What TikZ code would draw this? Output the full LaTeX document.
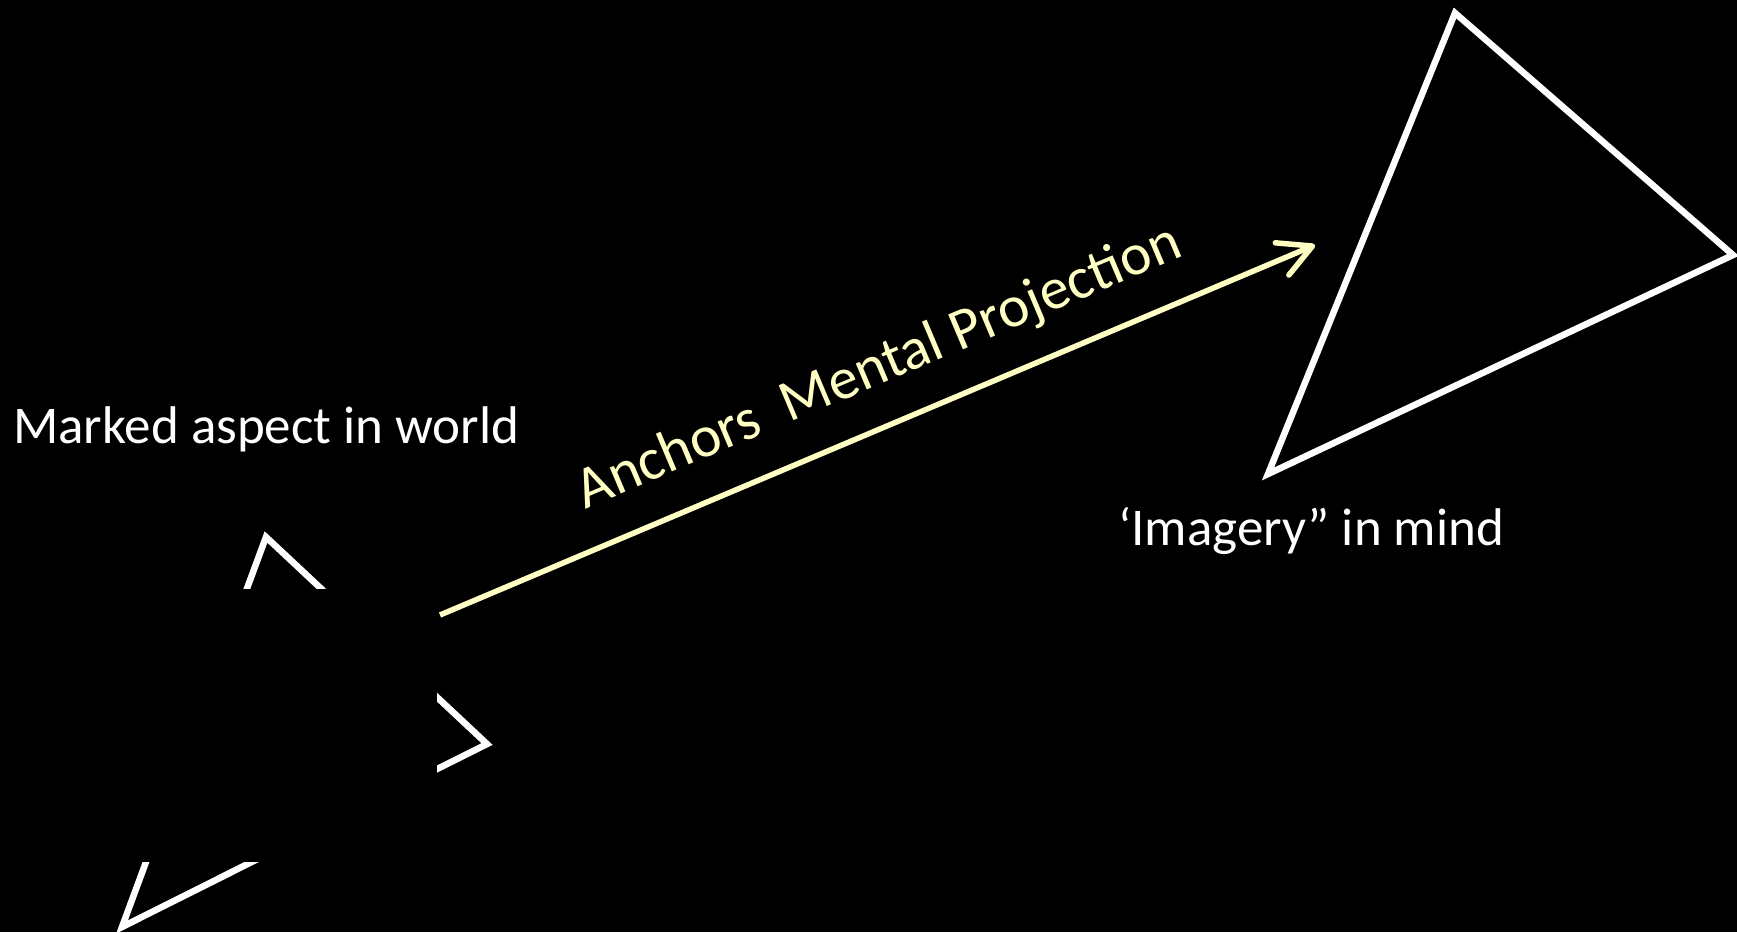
\documentclass[tikz,border=0pt]{standalone}
\usepackage{fontspec}
\setmainfont{Carlito}
\usetikzlibrary{arrows.meta}
\definecolor{projyellow}{RGB}{255,255,196}

\begin{document}
\begin{tikzpicture}[x=1pt, y=-1pt, line width=6.5pt,
        side/.style={draw=white, line join=miter},
        lbl/.style={text=white, anchor=base west, inner sep=0pt, font=\fontsize{53}{62}\selectfont},
        proj/.style={draw=projyellow, line width=5.5pt,
            -{Straight Barb[length=33pt, width=35pt, line cap=round, line join=round]}}]

    \fill[black] (0,0) rectangle (1737,932);

    % --- trójkąt w świecie, środek zasłonięty ---
    \coordinate (w-top) at (266,537);
    \coordinate (w-right) at (487,744);
    \coordinate (w-left) at (122,927);
    \draw[side] (w-top) -- (w-right) -- (w-left) -- cycle;
    \fill[black] (90,589) rectangle (437,862);

    % --- trójkąt w umyśle ---
    \coordinate (m-top) at (1455,13);
    \coordinate (m-right) at (1733,255);
    \coordinate (m-left) at (1268,474);
    \draw[side] (m-top) -- (m-right) -- (m-left) -- cycle;

    % --- strzałka projekcji ---
    \coordinate (src) at (440,615);
    \coordinate (dst) at (1315,245);
    \draw[proj] (src) -- (dst)
        node[pos=0.527, sloped, above=28pt, inner sep=0pt, text=projyellow,
             font=\fontsize{59}{68}\selectfont] (anchors) {Anchors\ \ Mental Projection};

    % --- opisy ---
    \node[lbl] (world) at (10,443) {Marked aspect in world};
    \node[lbl] (mind) at (1115,545) {‘Imagery” in mind};

\end{tikzpicture}
\end{document}
